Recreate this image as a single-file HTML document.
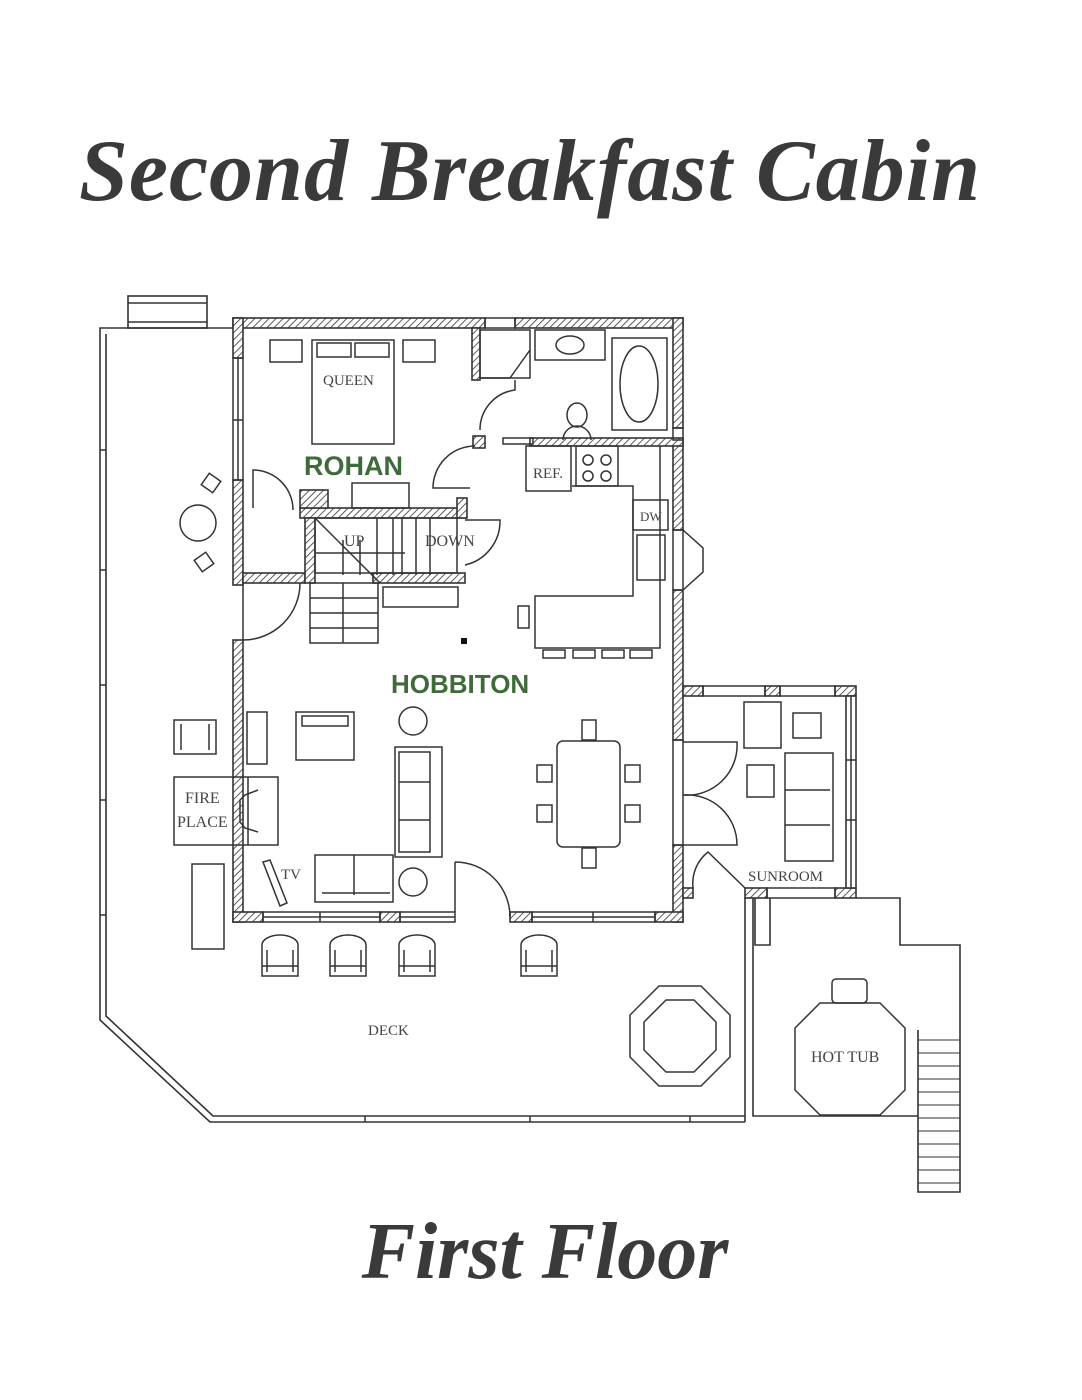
<!DOCTYPE html>
<html><head><meta charset="utf-8"><style>
html,body{margin:0;padding:0;background:#fff;}
svg{display:block}
text{font-family:"Liberation Serif",serif;fill:#444}
</style></head><body>
<svg width="1082" height="1400" viewBox="0 0 1082 1400">
<defs>
<pattern id="h" width="5" height="5" patternUnits="userSpaceOnUse" patternTransform="rotate(45)">
<rect width="5" height="5" fill="#fff"/><line x1="0" y1="0" x2="0" y2="5" stroke="#333" stroke-width="1.6"/>
</pattern>
</defs>
<text x="530" y="200" font-size="88" text-anchor="middle" font-style="italic" font-weight="bold" style="fill:#3a3a3a;letter-spacing:1px">Second Breakfast Cabin</text>
<text x="545" y="1278" font-size="80" text-anchor="middle" font-style="italic" font-weight="bold" style="fill:#3a3a3a">First Floor</text>

<g fill="none" stroke="#333" stroke-width="1.6">
<polyline points="233,328 100,328 100,1020 210,1122 745,1122"/>
<polyline points="106,334 106,1016 213,1116 745,1116"/>
<rect x="128" y="296" width="79" height="32"/><line x1="128" y1="303" x2="207" y2="303"/><line x1="128" y1="322" x2="207" y2="322"/>
<polyline points="745,898 745,1122"/><polyline points="753,898 753,1116 918,1116"/>
<polyline points="856,898 900,898 900,945 960,945 960,1192 918,1192 918,1030"/>
<polyline points="755,898 755,945 770,945 770,898"/>
</g>
<g stroke="#333" stroke-width="1">
<line x1="918" y1="1040" x2="960" y2="1040"/><line x1="918" y1="1053" x2="960" y2="1053"/><line x1="918" y1="1066" x2="960" y2="1066"/><line x1="918" y1="1079" x2="960" y2="1079"/><line x1="918" y1="1092" x2="960" y2="1092"/><line x1="918" y1="1105" x2="960" y2="1105"/><line x1="918" y1="1118" x2="960" y2="1118"/><line x1="918" y1="1131" x2="960" y2="1131"/><line x1="918" y1="1144" x2="960" y2="1144"/><line x1="918" y1="1157" x2="960" y2="1157"/><line x1="918" y1="1170" x2="960" y2="1170"/><line x1="918" y1="1183" x2="960" y2="1183"/>
</g>
<g stroke="#333" stroke-width="1.5">
<line x1="100" y1="450" x2="106" y2="450"/><line x1="100" y1="570" x2="106" y2="570"/><line x1="100" y1="685" x2="106" y2="685"/><line x1="100" y1="800" x2="106" y2="800"/><line x1="100" y1="915" x2="106" y2="915"/>
<line x1="365" y1="1116" x2="365" y2="1122"/><line x1="530" y1="1116" x2="530" y2="1122"/><line x1="690" y1="1116" x2="690" y2="1122"/>
</g>

<g fill="url(#h)" stroke="#333" stroke-width="1.6">
<rect x="233" y="318" width="252" height="10"/><rect x="515" y="318" width="168" height="10"/>
<rect x="233" y="318" width="10" height="40"/><rect x="233" y="480" width="10" height="105"/><rect x="233" y="640" width="10" height="282"/>
<rect x="673" y="318" width="10" height="110"/><rect x="673" y="440" width="10" height="90"/><rect x="673" y="590" width="10" height="150"/><rect x="673" y="845" width="10" height="77"/>
<rect x="233" y="912" width="30" height="10"/><rect x="380" y="912" width="20" height="10"/><rect x="510" y="912" width="22" height="10"/><rect x="655" y="912" width="28" height="10"/>
<rect x="472" y="328" width="8" height="52"/><rect x="473" y="436" width="12" height="12"/>
<rect x="530" y="438" width="153" height="8"/>
<rect x="300" y="508" width="165" height="10"/><rect x="300" y="490" width="28" height="18"/><rect x="457" y="498" width="10" height="20"/>
<rect x="243" y="573" width="62" height="10"/><rect x="305" y="518" width="10" height="65"/>
<rect x="373" y="573" width="92" height="10"/>
<rect x="683" y="686" width="20" height="10"/><rect x="765" y="686" width="15" height="10"/><rect x="835" y="686" width="21" height="10"/>
<rect x="683" y="888" width="10" height="10"/><rect x="745" y="888" width="22" height="10"/><rect x="835" y="888" width="21" height="10"/>
<rect x="846" y="696" width="10" height="192" fill="#fff"/>
</g>
<g fill="none" stroke="#333" stroke-width="1.5">
<rect x="485" y="318" width="30" height="10"/><rect x="233" y="358" width="10" height="122"/><line x1="238" y1="358" x2="238" y2="480"/><line x1="233" y1="420" x2="243" y2="420"/>
<rect x="263" y="912" width="117" height="10"/><line x1="263" y1="917" x2="380" y2="917"/><line x1="320" y1="912" x2="320" y2="922"/>
<rect x="400" y="912" width="55" height="10"/><line x1="400" y1="917" x2="455" y2="917"/>
<rect x="532" y="912" width="123" height="10"/><line x1="532" y1="917" x2="655" y2="917"/><line x1="593" y1="912" x2="593" y2="922"/>
<rect x="673" y="428" width="10" height="12"/><rect x="673" y="530" width="10" height="60"/><polyline points="683,530 703,548 703,572 683,590"/>
<rect x="703" y="686" width="62" height="10"/><rect x="780" y="686" width="55" height="10"/><rect x="767" y="888" width="68" height="10"/>
<line x1="851" y1="696" x2="851" y2="888"/><line x1="846" y1="760" x2="856" y2="760"/><line x1="846" y1="820" x2="856" y2="820"/>
<rect x="673" y="740" width="10" height="105"/>
<path d="M243,583 L243,640 M243,640 A57,57 0 0 0 300,583"/>
<path d="M253,508 L253,470 A40,40 0 0 1 293,510"/>
<path d="M480,430 A40,40 0 0 1 515,390 L515,380"/>
<path d="M475,446 A42,42 0 0 0 433,488 L470,488"/>
<path d="M465,520 L500,520 A45,45 0 0 1 465,565"/>
<path d="M455,862 A55,55 0 0 1 510,917 M455,862 L455,912"/>
<path d="M683,742 L737,742 A50,50 0 0 1 683,795"/><path d="M683,845 L737,845 A50,50 0 0 0 683,795"/>
<path d="M745,888 L708,852 A40,40 0 0 0 693,888"/>
<rect x="312" y="340" width="82" height="104"/><rect x="317" y="343" width="34" height="14"/><rect x="355" y="343" width="34" height="14"/>
<rect x="270" y="340" width="32" height="22"/><rect x="403" y="340" width="32" height="22"/>
<rect x="352" y="483" width="57" height="25"/>
<rect x="480" y="330" width="50" height="48"/><line x1="480" y1="378" x2="510" y2="378"/><line x1="510" y1="378" x2="530" y2="350"/>
<rect x="535" y="330" width="70" height="30"/><ellipse cx="570" cy="345" rx="14" ry="9"/>
<rect x="612" y="338" width="55" height="92"/><ellipse cx="639" cy="384" rx="19" ry="38"/>
<ellipse cx="577" cy="415" rx="10" ry="12"/><path d="M563,440 A14,14 0 0 1 591,440"/>
<rect x="503" y="438" width="30" height="6"/>
<rect x="526" y="446" width="45" height="45"/><rect x="576" y="446" width="42" height="40"/>
<circle cx="588" cy="460" r="5"/><circle cx="606" cy="460" r="5"/><circle cx="588" cy="476" r="5"/><circle cx="606" cy="476" r="5"/>
<polyline points="572,486 633,486 633,596 535,596 535,648 660,648 660,446"/>
<rect x="633" y="500" width="35" height="30"/><rect x="637" y="535" width="28" height="45"/>
<rect x="518" y="606" width="11" height="22"/>
<rect x="543" y="650" width="22" height="8"/><rect x="573" y="650" width="22" height="8"/><rect x="602" y="650" width="22" height="8"/><rect x="630" y="650" width="22" height="8"/>
<rect x="315" y="518" width="142" height="55"/>
<line x1="315" y1="518" x2="380" y2="583"/>
<line x1="377" y1="518" x2="377" y2="575"/><line x1="393" y1="518" x2="393" y2="575"/><line x1="402" y1="518" x2="402" y2="575"/><line x1="416" y1="518" x2="416" y2="575"/><line x1="430" y1="518" x2="430" y2="575"/><line x1="343" y1="540" x2="343" y2="575"/><line x1="360" y1="540" x2="360" y2="575"/>
<line x1="315" y1="553" x2="405" y2="553"/>
<rect x="310" y="583" width="68" height="60"/>
<line x1="310" y1="598" x2="378" y2="598"/><line x1="310" y1="613" x2="378" y2="613"/><line x1="310" y1="628" x2="378" y2="628"/><line x1="343" y1="583" x2="343" y2="643"/>
<rect x="383" y="587" width="75" height="20"/>
<rect x="247" y="712" width="20" height="52"/>
<rect x="296" y="712" width="58" height="48"/><rect x="302" y="716" width="46" height="10"/>
<circle cx="413" cy="721" r="14"/><circle cx="413" cy="882" r="14"/>
<rect x="395" y="747" width="47" height="110"/><rect x="399" y="752" width="31" height="100"/><line x1="399" y1="782" x2="430" y2="782"/><line x1="399" y1="820" x2="430" y2="820"/>
<rect x="315" y="855" width="78" height="47"/><line x1="354" y1="855" x2="354" y2="895"/><line x1="322" y1="893" x2="390" y2="893"/>
<polygon points="263,862 270,860 287,903 280,906"/>
<rect x="174" y="777" width="104" height="68"/><line x1="248" y1="777" x2="248" y2="845"/><polyline points="258,790 245,795 240,800 240,822 245,828 258,832"/>
<rect x="174" y="720" width="42" height="34"/><line x1="181" y1="724" x2="181" y2="750"/><line x1="209" y1="724" x2="209" y2="750"/>
<rect x="192" y="864" width="32" height="85"/>
<rect x="557" y="741" width="63" height="106" rx="6"/>
<rect x="582" y="720" width="14" height="20"/><rect x="582" y="848" width="14" height="20"/>
<rect x="537" y="765" width="15" height="17"/><rect x="537" y="805" width="15" height="17"/><rect x="625" y="765" width="15" height="17"/><rect x="625" y="805" width="15" height="17"/>
<rect x="744" y="702" width="37" height="46"/><rect x="793" y="713" width="28" height="25"/><rect x="747" y="765" width="27" height="32"/>
<rect x="785" y="753" width="48" height="108"/><line x1="785" y1="790" x2="830" y2="790"/><line x1="785" y1="825" x2="830" y2="825"/>
<rect x="204" y="476" width="14" height="14" transform="rotate(35 211 483)"/><rect x="197" y="555" width="14" height="14" transform="rotate(-35 204 562)"/><circle cx="198" cy="523" r="18"/>
<g id="c"><path d="M262,976 L262,945 A18,10 0 0 1 298,945 L298,976 Z"/><line x1="267" y1="950" x2="267" y2="972"/><line x1="293" y1="950" x2="293" y2="972"/><line x1="262" y1="966" x2="298" y2="966"/></g>
<use href="#c" x="68"/><use href="#c" x="137"/><use href="#c" x="259"/>
<polygon points="659,986 701,986 730,1015 730,1057 701,1086 659,1086 630,1057 630,1015"/>
<polygon points="666,1000 694,1000 716,1022 716,1050 694,1072 666,1072 644,1050 644,1022"/>
<polygon points="820,1003 880,1003 905,1028 905,1090 880,1115 820,1115 795,1090 795,1028"/>
<rect x="832" y="979" width="35" height="24" rx="4"/>
</g>
<rect x="461" y="638" width="6" height="6" fill="#111"/>
<g font-size="15">
<text x="323" y="385">QUEEN</text><text x="533" y="478">REF.</text><text x="640" y="521" font-size="13">DW</text>
<text x="344" y="546" font-size="16">UP</text><text x="425" y="546" font-size="16">DOWN</text>
<text x="185" y="803" font-size="16">FIRE</text><text x="177" y="827" font-size="16">PLACE</text><text x="281" y="879">TV</text>
<text x="748" y="881">SUNROOM</text><text x="368" y="1035">DECK</text><text x="811" y="1062" font-size="16">HOT TUB</text>
</g>
<text x="304" y="475" font-size="27" font-weight="bold" style="font-family:'Liberation Sans',sans-serif;fill:#3f6b3a">ROHAN</text>
<text x="391" y="693" font-size="26" font-weight="bold" style="font-family:'Liberation Sans',sans-serif;fill:#3f6b3a">HOBBITON</text>
</svg>
</body></html>
